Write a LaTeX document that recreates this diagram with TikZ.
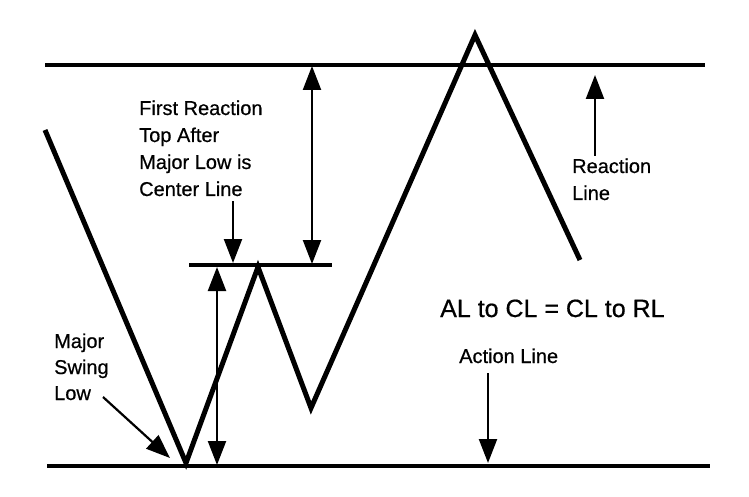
\documentclass[tikz,border=0pt]{standalone}
\usepackage{fontspec}
\setmainfont{Liberation Sans}
\newfontfamily\lblfont{Liberation Sans}[FakeBold=0.6]
\usetikzlibrary{arrows.meta}
\begin{document}
\begin{tikzpicture}[x=1pt,y=-1pt,
  zig/.style={line width=5pt,line join=miter,line cap=butt},
  level/.style={line width=3.5pt},
  ptr/.style={line width=2.2pt,-{Triangle[width=18pt,length=24pt]}},
  dptr/.style={line width=2.2pt,{Triangle[width=18pt,length=24pt]}-{Triangle[width=18pt,length=24pt]}},
  lbl/.style={anchor=base west,inner sep=0pt,font=\lblfont\fontsize{20}{24}\selectfont},
  big/.style={anchor=base west,inner sep=0pt,font=\lblfont\fontsize{25}{29}\selectfont}]
\useasboundingbox (0,0) rectangle (749,497);
% levels
\coordinate (rlL) at (45,65);  \coordinate (rlR) at (705,65);
\coordinate (alL) at (47,466); \coordinate (alR) at (710,466);
\coordinate (clL) at (189,265); \coordinate (clR) at (332,265);
\draw[level] (rlL) -- (rlR);
\draw[level] (alL) -- (alR);
\draw[level] (clL) -- (clR);
% zigzag
\coordinate (z0) at (45,130);
\coordinate (z1) at (186,463);
\coordinate (z2) at (258,267);
\coordinate (z3) at (311,408);
\coordinate (z4) at (475,35);
\coordinate (z5) at (580,260);
\draw[zig] (z0) -- (z1) -- (z2) -- (z3) -- (z4) -- (z5);
% double arrows
\coordinate (d1t) at (312,66); \coordinate (d1b) at (312,264);
\draw[dptr] (d1t) -- (d1b);
\coordinate (d2t) at (217,267); \coordinate (d2b) at (217,465);
\draw[dptr] (d2t) -- (d2b);
% labels
\node[lbl] (fr1) at (139,115) {First Reaction};
\node[lbl] (fr2) at (139,142) {Top After};
\node[lbl] (fr3) at (139,169) {Major Low is};
\node[lbl] (fr4) at (139,196) {Center Line};
\node[lbl] (ms1) at (54,348) {Major};
\node[lbl] (ms2) at (54,374) {Swing};
\node[lbl] (ms3) at (54,400) {Low};
\node[lbl] (rl1) at (572,173) {Reaction};
\node[lbl] (rl2) at (572,200) {Line};
\node[lbl] (al1) at (459,363) {Action Line};
\node[big] (eq) at (440,317) {AL to CL = CL to RL};
% pointers
\coordinate (cpT) at (233,201); \coordinate (cpH) at (233,263);
\draw[ptr] (cpT) -- (cpH);
\coordinate (rpT) at (595,156); \coordinate (rpH) at (595,75);
\draw[ptr] (rpT) -- (rpH);
\coordinate (apT) at (488,373); \coordinate (apH) at (488,463);
\draw[ptr] (apT) -- (apH);
\coordinate (mpT) at (103,397); \coordinate (mpH) at (170,458);
\draw[ptr] (mpT) -- (mpH);
\end{tikzpicture}
\end{document}
